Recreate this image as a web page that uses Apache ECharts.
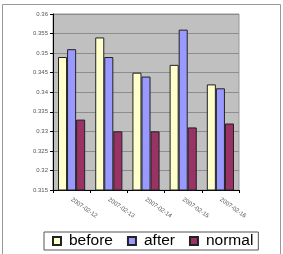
<!DOCTYPE html>
<html>
<head>
<meta charset="utf-8">
<script src="https://cdn.jsdelivr.net/npm/echarts@6/dist/echarts.min.js"></script>
<style>
  html, body { margin: 0; padding: 0; background: #fff; }
  #chart { width: 283px; height: 254px; }
</style>
</head>
<body>
<div id="chart"></div>
<script>
const categories = ['2007-02-12', '2007-02-13', '2007-02-14', '2007-02-15', '2007-02-16']
const before = [0.349, 0.354, 0.345, 0.347, 0.342]
const after = [0.351, 0.349, 0.344, 0.356, 0.341]
const normal = [0.333, 0.330, 0.330, 0.331, 0.332]

const chart = echarts.init(document.getElementById('chart'))

const barStyle = (color) => ({
  color: color,
  borderColor: '#222',
  borderWidth: 1
})

const option = {
  animation: false,
  textStyle: { fontFamily: 'Liberation Sans, Arial, sans-serif' },
  graphic: [
    {
      type: 'rect',
      shape: { x: 2.5, y: 4.5, width: 278, height: 260 },
      style: { fill: 'none', stroke: '#999', lineWidth: 1 },
      z: -1
    }
  ],
  grid: {
    left: 53,
    right: 44,
    top: 14,
    bottom: 64,
    show: true,
    backgroundColor: '#c0c0c0',
    borderColor: '#999',
    borderWidth: 1
  },
  legend: {
    data: ['before', 'after', 'normal'],
    top: 232,
    left: 44,
    itemWidth: 8,
    itemHeight: 8,
    itemGap: 14,
    icon: 'rect',
    borderColor: '#555',
    borderWidth: 1,
    padding: [1, 5, 1, 8],
    textStyle: { fontSize: 15.5, color: '#000', padding: [0, 0, 0, 3] }
  },
  xAxis: {
    type: 'category',
    data: categories,
    axisLine: { lineStyle: { color: '#000' } },
    axisTick: { show: true, length: 3, lineStyle: { color: '#000' } },
    axisLabel: { rotate: -35, fontSize: 6, color: '#555', margin: 9, interval: 0 }
  },
  yAxis: {
    type: 'value',
    min: 0.315,
    max: 0.36,
    interval: 0.005,
    axisLine: { show: true, lineStyle: { color: '#000' } },
    axisTick: { show: true, length: 3, lineStyle: { color: '#000' } },
    splitLine: { lineStyle: { color: '#8c8c8c' } },
    axisLabel: {
      fontSize: 6,
      color: '#555',
      margin: 5,
      formatter: (v) => String(parseFloat(v.toFixed(3)))
    }
  },
  series: [
    { name: 'before', type: 'bar', data: before, itemStyle: barStyle('#ffffcc'), barGap: '0%', barCategoryGap: '27%' },
    { name: 'after', type: 'bar', data: after, itemStyle: barStyle('#9999ff'), barGap: '0%', barCategoryGap: '27%' },
    { name: 'normal', type: 'bar', data: normal, itemStyle: barStyle('#993366'), barGap: '0%', barCategoryGap: '27%' }
  ]
}

chart.setOption(option)
</script>
</body>
</html>
